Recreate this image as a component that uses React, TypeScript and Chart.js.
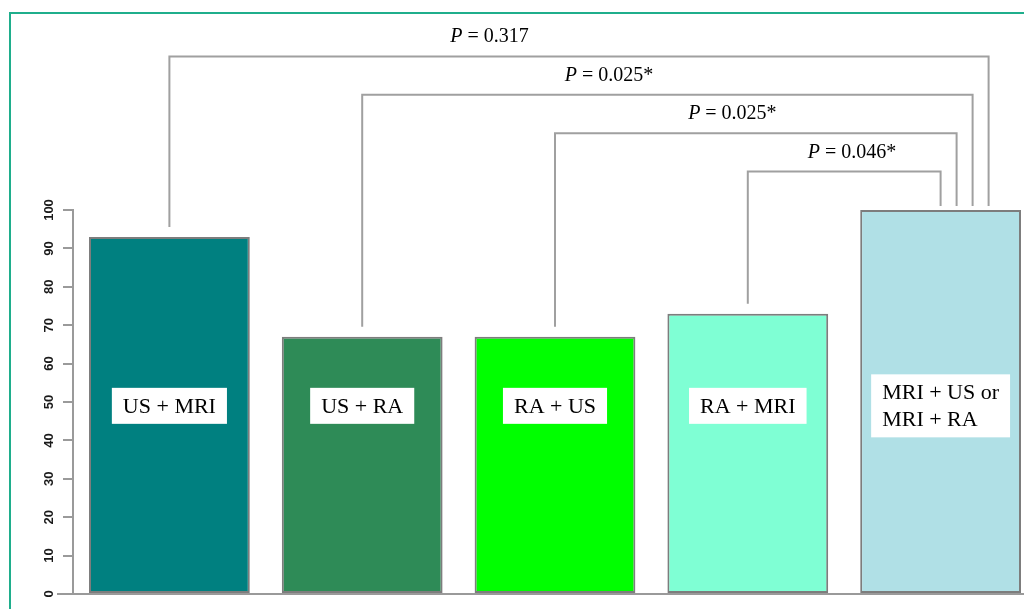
import React, { useEffect, useRef } from "react";
import { Chart, registerables } from "chart.js";

Chart.register(...registerables);

// ---- data ----
const categories = ["US + MRI", "US + RA", "RA + US", "RA + MRI", "MRI + US or\nMRI + RA"];
const values = [93, 67, 67, 73, 100];
const barColors = ["#008080", "#2E8B57", "#00FF00", "#7FFFD4", "#B0E0E6"];
const yTicks = [0, 10, 20, 30, 40, 50, 60, 70, 80, 90, 100];

// significance brackets (comparisons against the last group)
const bracketFrom = [0, 1, 2, 3];
const bracketTo = [4, 4, 4, 4];
const bracketLevel = [140, 130, 120, 110];
const pValues = ["0.317", "0.025*", "0.025*", "0.046*"];
const pLabelAt = [1.66, 2.28, 2.92, 3.54];
const boxLevel = 49;

const SERIF = '"Liberation Serif", "Times New Roman", serif';
const SANS = '"Liberation Sans", Arial, sans-serif';

const overlayPlugin = {
  id: "overlay",
  afterDatasetsDraw(chart: any) {
    const ctx = chart.ctx as CanvasRenderingContext2D;
    const xs = chart.scales.x;
    const ys = chart.scales.y;
    const area = chart.chartArea;
    ctx.save();

    // y tick labels (rotated)
    ctx.fillStyle = "#1a1a1a";
    ctx.font = `bold 13px ${SANS}`;
    ctx.textAlign = "center";
    ctx.textBaseline = "middle";
    yTicks.forEach((v) => {
      const y = ys.getPixelForValue(v);
      ctx.save();
      ctx.translate(area.left - 24, y);
      ctx.rotate(-Math.PI / 2);
      ctx.fillText(String(v), 0, 0);
      ctx.restore();
    });

    // baseline extension to the left
    ctx.strokeStyle = "#9a9a9a";
    ctx.lineWidth = 2;
    ctx.beginPath();
    const y0 = ys.getPixelForValue(0);
    ctx.moveTo(area.left - 16, y0);
    ctx.lineTo(area.left, y0);
    ctx.stroke();

    // category boxes inside bars
    ctx.font = `22px ${SERIF}`;
    ctx.textBaseline = "middle";
    categories.forEach((c, i) => {
      const lines = c.split("\n");
      const cx = xs.getPixelForValue(i);
      const cy = ys.getPixelForValue(boxLevel);
      const tw = Math.max(...lines.map((l) => ctx.measureText(l).width));
      const w = tw + 22;
      const lh = 27;
      const h = lines.length === 1 ? 36 : lines.length * lh + 9;
      ctx.fillStyle = "#ffffff";
      ctx.fillRect(cx - w / 2, cy - h / 2, w, h);
      ctx.fillStyle = "#000";
      ctx.textAlign = "left";
      lines.forEach((l, k) => {
        const ly = cy - ((lines.length - 1) * lh) / 2 + k * lh + 1;
        ctx.fillText(l, cx - tw / 2, ly);
      });
    });

    // brackets
    ctx.strokeStyle = "#a0a0a0";
    ctx.lineWidth = 2;
    bracketFrom.forEach((from, k) => {
      const to = bracketTo[k];
      const yTop = ys.getPixelForValue(bracketLevel[k]);
      const xL = xs.getPixelForValue(from);
      const xR = xs.getPixelForValue(to) + (bracketFrom.length - 1 - k) * 16;
      const yL = ys.getPixelForValue(values[from]) - 10;
      const yR = ys.getPixelForValue(values[to]) - 4;
      ctx.beginPath();
      ctx.moveTo(xL, yL);
      ctx.lineTo(xL, yTop);
      ctx.lineTo(xR, yTop);
      ctx.lineTo(xR, yR);
      ctx.stroke();

      // p-value label
      const cx = xs.getPixelForValue(pLabelAt[k]);
      const base = yTop - 14;
      const rest = " = " + pValues[k];
      ctx.font = `italic 20px ${SERIF}`;
      const wP = ctx.measureText("P").width;
      ctx.font = `20px ${SERIF}`;
      const wR = ctx.measureText(rest).width;
      const start = cx - (wP + wR) / 2;
      ctx.fillStyle = "#000";
      ctx.textAlign = "left";
      ctx.textBaseline = "alphabetic";
      ctx.font = `italic 20px ${SERIF}`;
      ctx.fillText("P", start, base);
      ctx.font = `20px ${SERIF}`;
      ctx.fillText(rest, start + wP, base);
    });

    ctx.restore();
  },
};

export default function App() {
  const ref = useRef<HTMLCanvasElement | null>(null);

  useEffect(() => {
    if (!ref.current) return;
    const chart = new Chart(ref.current, {
      type: "bar",
      data: {
        labels: categories,
        datasets: [
          {
            data: values,
            backgroundColor: barColors,
            borderColor: "#7d7d7d",
            borderWidth: 2,
            borderSkipped: false,
            barPercentage: 0.834,
            categoryPercentage: 1,
          },
        ],
      },
      options: {
        animation: false,
        responsive: false,
        maintainAspectRatio: false,
        layout: { padding: { left: 63, right: 3, top: 210, bottom: 7 } },
        plugins: { legend: { display: false }, tooltip: { enabled: false } },
        scales: {
          x: {
            grid: { display: false },
            ticks: { display: false },
            border: { display: true, color: "#9a9a9a", width: 2 },
          },
          y: {
            min: 0,
            max: 100,
            afterBuildTicks: (scale: any) => {
              scale.ticks = yTicks.map((v) => ({ value: v }));
            },
            grid: {
              drawOnChartArea: false,
              drawTicks: true,
              tickLength: 10,
              color: "#9a9a9a",
              lineWidth: 2,
            },
            ticks: { display: false },
            border: { display: true, color: "#9a9a9a", width: 2 },
          },
        },
      },
      plugins: [overlayPlugin],
    });
    return () => chart.destroy();
  }, []);

  return (
    <div
      style={{
        position: "fixed",
        left: 0,
        top: 0,
        width: 1024,
        height: 609,
        overflow: "hidden",
        background: "#ffffff",
      }}
    >
      <div
        style={{
          position: "absolute",
          left: 9,
          top: 12,
          width: 2000,
          height: 2000,
          borderLeft: "2px solid #1fae8c",
          borderTop: "2px solid #1fae8c",
        }}
      />
      <canvas
        ref={ref}
        width={1040}
        height={609}
        style={{ position: "absolute", left: 0, top: 0, width: 1040, height: 609 }}
      />
    </div>
  );
}
